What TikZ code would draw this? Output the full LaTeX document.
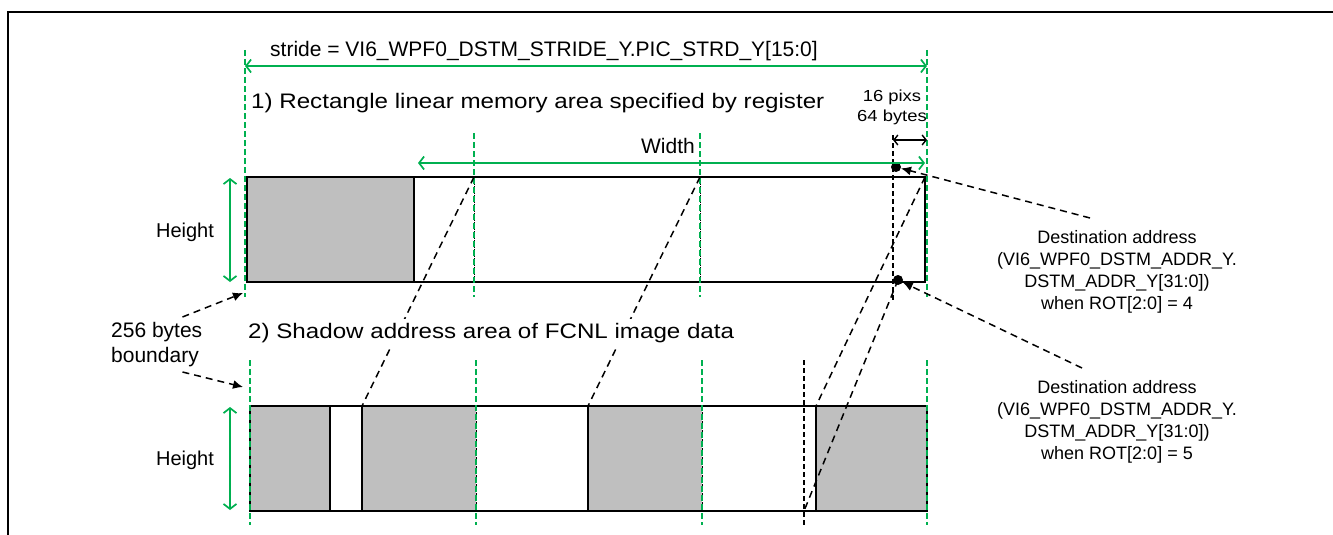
\documentclass[tikz,border=0pt]{standalone}
\usepackage{fontspec}
\setmainfont{Liberation Sans}
\newfontfamily\widefont{Liberation Sans}[FakeStretch=1.15]
\usepackage{xcolor}
\usetikzlibrary{arrows.meta,calc,positioning}

\definecolor{bgreen}{RGB}{0,176,80}
\definecolor{blkgray}{RGB}{191,191,191}

\begin{document}
\begin{tikzpicture}[x=1pt, y=-1pt,
  frame/.style={line width=2.4pt},
  memblk/.style={draw, line width=1.7pt},
  bound/.style={bgreen, line width=1.5pt, dash pattern=on 6pt off 3pt},
  blkbound/.style={black, line width=0.8pt, dash pattern=on 1.5pt off 1.5pt},
  guide/.style={black, line width=1.5pt, dash pattern=on 7pt off 5pt},
  vguide/.style={black, line width=1.5pt, dash pattern=on 5pt off 3pt},
  dimarr/.style={bgreen, line width=1.7pt,
    {Straight Barb[length=5pt,width=13pt]}-{Straight Barb[length=5pt,width=13pt]}},
  pixarr/.style={black, line width=1.4pt,
    {Straight Barb[length=4pt,width=10pt]}-{Straight Barb[length=4pt,width=10pt]}},
  callout/.style={guide, -{Latex[length=10pt,width=9pt]}},
  addrdot/.style={circle, fill=black, inner sep=0pt, minimum size=10pt},
  lbl/.style={font=\fontsize{21}{25}\selectfont, inner sep=0pt},
  head/.style={font=\widefont\fontsize{21}{25}\selectfont, inner sep=0pt},
  addr/.style={font=\fontsize{18}{22}\selectfont, align=center, inner sep=0pt},
  pixs/.style={font=\widefont\fontsize{16}{20}\selectfont, align=center, inner sep=0pt}
]
\useasboundingbox (0,0) rectangle (1333,535);

% frame
\draw[frame] (8,535) -- (8,12) -- (1333,12);

% 1) rectangle memory area
\fill[blkgray] (247,177) rectangle (414,282);
\draw[memblk] (247,177) rectangle (925,282);
\draw[memblk] (414,177) -- (414,282);
\foreach \x in {474,700} \draw[blkbound] (\x,177) -- (\x,282);

% 2) shadow address area
\foreach \xa/\xb in {250/330,362/476,588/702,816/927}
  \fill[blkgray] (\xa,406) rectangle (\xb,511);
\draw[memblk] (250,406) rectangle (927,511);
\foreach \x in {330,362,588,816} \draw[memblk] (\x,406) -- (\x,511);
\foreach \x in {476,702} \draw[blkbound] (\x,406) -- (\x,511);

% 256 bytes boundaries
\foreach \x/\ya in {245/50,474/133,700/133,927/50} \draw[bound] (\x,\ya) -- (\x,297);
\foreach \x in {250,476,702,927} \draw[bound] (\x,360) -- (\x,525);

% 64 bytes guides
\draw[vguide] (893,135) -- (893,300);
\draw[vguide] (804,360) -- (804,525);

\node[addrdot] (dotA) at (896,167) {};
\node[addrdot] (dotB) at (898,280) {};

% mapping top -> bottom
\coordinate (row1) at (474,177);
\coordinate (row2) at (700,177);
\coordinate (row3) at (925,177);
\coordinate (sh1) at (362,406);
\coordinate (sh2) at (588,406);
\coordinate (sh3) at (816,406);
\coordinate (sh4) at (804,511);
\draw[guide] (row1) -- (sh1);
\draw[guide] (row2) -- (sh2);
\draw[guide] (row3) -- (sh3);
\draw[guide] (dotB.center) -- (sh4);

% dimensions
\coordinate (strL) at (245,66);
\coordinate (strR) at (927,66);
\coordinate (widL) at (418,163);
\coordinate (widR) at (925,163);
\coordinate (hgtT) at (230,178);
\coordinate (hgtB) at (230,282);
\coordinate (hgtT2) at (230,407);
\coordinate (hgtB2) at (230,510);
\coordinate (pixL) at (893,140);
\coordinate (pixR) at (927,140);
\draw[dimarr] (strL) -- (strR);
\draw[dimarr] (widL) -- (widR);
\draw[dimarr] (hgtT) -- (hgtB);
\draw[dimarr] (hgtT2) -- (hgtB2);
\draw[pixarr] (pixL) -- (pixR);

% labels
\node[lbl, anchor=base west] (stride) at (270,57)
  {stride = VI6\_WPF0\_DSTM\_STRIDE\_Y.PIC\_STRD\_Y[15:0]};
\node[head, anchor=base west] (area1) at (251,108)
  {1) Rectangle linear memory area specified by register};
\node[head, anchor=base west, fill=white, inner sep=4pt] (area2) at (244,338)
  {2) Shadow address area of FCNL image data};
\node[lbl, anchor=base] (wlbl) at (668,153) {Width};
\node[lbl, font=\fontsize{20}{24}\selectfont, anchor=base] (hlbl1) at (185,237) {Height};
\node[lbl, font=\fontsize{20}{24}\selectfont, anchor=base] (hlbl2) at (185,465) {Height};
\node[pixs, anchor=south] (pixlbl) at (892,125) {16 pixs\\64 bytes};
\node[lbl, align=left, anchor=north west] (bndlbl) at (111,322) {256 bytes\\boundary};
\node[addr, anchor=north] (dstA) at (1117,230)
  {Destination address\\(VI6\_WPF0\_DSTM\_ADDR\_Y.\\DSTM\_ADDR\_Y[31:0])\\when ROT[2:0] = 4};
\node[addr, anchor=north] (dstB) at (1117,380)
  {Destination address\\(VI6\_WPF0\_DSTM\_ADDR\_Y.\\DSTM\_ADDR\_Y[31:0])\\when ROT[2:0] = 5};

% callouts
\coordinate (bndA) at (243,293);
\coordinate (bndB) at (243,387);
\draw[callout] ($(bndlbl.north east)+(-20,-5)$) -- (bndA);
\draw[callout] ($(bndlbl.south east)+(-20,5)$) -- (bndB);
\draw[callout] ($(dstA.north)+(-27,-12)$) -- (dotA);
\draw[callout] ($(dstB.north)+(-35,-12)$) -- (dotB);
\end{tikzpicture}
\end{document}
